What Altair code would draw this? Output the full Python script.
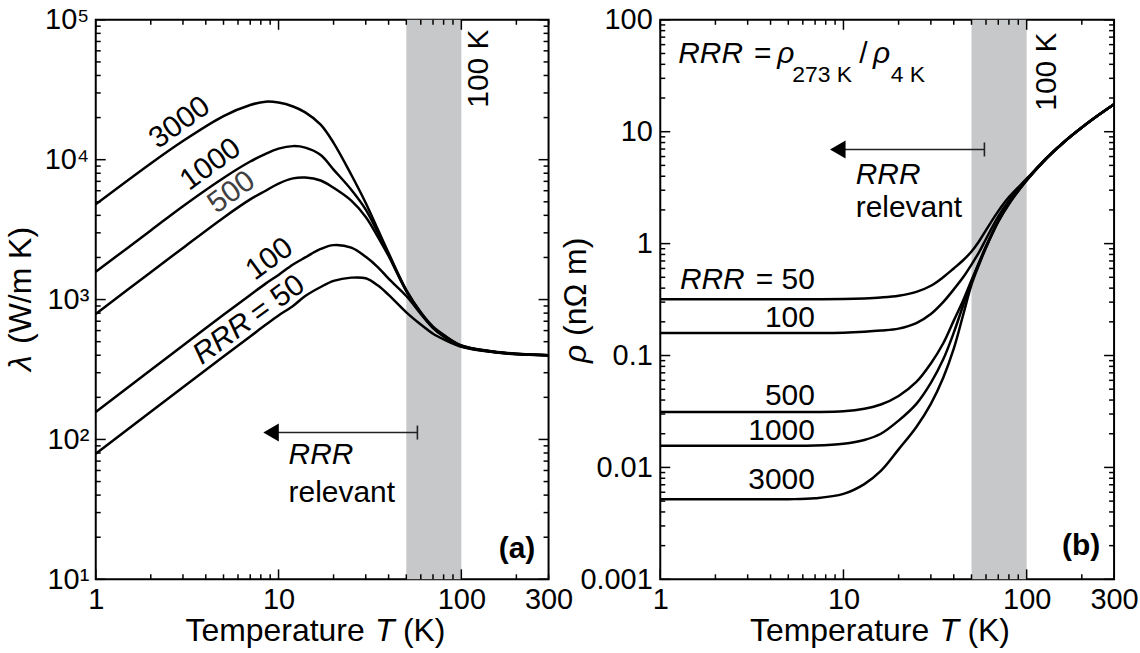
import altair as alt
import pandas as pd

FONT = "Liberation Sans"
GREY_BAND = "#c7c8ca"

# ---------------- panel (a): thermal conductivity lambda (W/m K) ----------------
T_A = [1, 2, 3, 5, 7, 8.5, 10, 12, 14, 17, 20, 25, 30, 35, 40, 50, 60, 70, 80, 100, 150, 200, 300]
LAM_3000 = [4800, 9400, 13600, 20500, 24600, 26000, 25600, 24000, 21800, 17800, 13200, 7800, 4900, 3150, 2150, 1170, 810, 640, 560, 470, 425, 410, 400]
LAM_1000 = [1580, 3120, 4650, 7400, 9700, 11000, 12000, 12500, 12200, 10800, 8500, 6100, 4400, 3000, 2100, 1160, 805, 635, 555, 468, 424, 409, 400]
LAM_500 = [790, 1570, 2340, 3850, 5200, 6000, 6750, 7350, 7450, 7100, 6300, 5100, 3900, 2800, 2050, 1150, 800, 630, 550, 466, 423, 408, 400]
LAM_100 = [157, 314, 470, 780, 1080, 1300, 1500, 1780, 2000, 2300, 2450, 2350, 2020, 1700, 1410, 1060, 790, 625, 545, 463, 422, 408, 400]
LAM_50 = [79, 158, 236, 392, 545, 660, 770, 900, 1060, 1230, 1360, 1435, 1420, 1260, 1080, 810, 663, 570, 520, 460, 420, 407, 400]

# ---------------- panel (b): resistivity rho (nOhm m) ----------------
T_B = [1, 3, 5, 7, 10, 13, 16, 20, 25, 30, 35, 40, 45, 50, 55, 60, 70, 80, 100, 130, 160, 200, 250, 300]
RHO_50 = [0.319, 0.319, 0.319, 0.319, 0.320, 0.324, 0.330, 0.342, 0.37, 0.42, 0.50, 0.60, 0.71, 0.85, 1.05, 1.32, 1.95, 2.6, 3.8, 5.95, 8.1, 10.9, 14.3, 17.6]
RHO_100 = [0.159, 0.159, 0.159, 0.159, 0.160, 0.163, 0.167, 0.174, 0.195, 0.235, 0.30, 0.39, 0.50, 0.65, 0.84, 1.10, 1.75, 2.42, 3.75, 5.92, 8.1, 10.9, 14.3, 17.6]
RHO_500 = [0.0313, 0.0313, 0.0313, 0.0313, 0.0318, 0.0335, 0.0365, 0.0435, 0.058, 0.085, 0.128, 0.205, 0.31, 0.47, 0.68, 0.95, 1.60, 2.30, 3.70, 5.90, 8.1, 10.9, 14.3, 17.6]
RHO_1000 = [0.0156, 0.0156, 0.0156, 0.0157, 0.0163, 0.0176, 0.0200, 0.0262, 0.037, 0.057, 0.092, 0.16, 0.28, 0.45, 0.67, 0.93, 1.58, 2.28, 3.68, 5.90, 8.1, 10.9, 14.3, 17.6]
RHO_3000 = [0.0052, 0.0052, 0.0052, 0.0053, 0.0058, 0.0071, 0.0093, 0.0145, 0.023, 0.037, 0.063, 0.115, 0.23, 0.43, 0.65, 0.92, 1.57, 2.25, 3.66, 5.90, 8.1, 10.9, 14.3, 17.6]

BAND_T = [50, 100]

X_TICKS = [1, 10, 100, 300]
X_MAJOR = [1, 10, 100]
X_MINOR = [2, 3, 4, 5, 6, 7, 8, 9, 20, 30, 40, 50, 60, 70, 80, 90, 200, 300]
LAM_MAJOR = [10, 100, 1000, 10000, 100000]
LAM_MINOR = [m * 10 ** k for k in range(1, 5) for m in range(2, 10)]
RHO_MAJOR = [0.001, 0.01, 0.1, 1, 10, 100]
RHO_MINOR = [m * 10.0 ** k for k in range(-3, 2) for m in range(2, 10)]

# axis-title pieces: (text, italic?)
X_TITLE = [("Temperature", False), ("T", True), ("(K)", False)]
YA_TITLE = [("λ", True), ("(W/m K)", False)]
YB_TITLE = [("ρ", True), ("(nΩ m)", False)]


def long_df(T, series):
    rows = []
    for name, vals in series.items():
        for t, v in zip(T, vals):
            rows.append({"T": t, "v": v, "RRR": name})
    return pd.DataFrame(rows)


class Panel:
    def __init__(self, xs, ys, xaxis, yaxis, W, H):
        self.xs, self.ys, self.xaxis, self.yaxis, self.W, self.H = xs, ys, xaxis, yaxis, W, H

    def X(self, f):
        return alt.X(f, scale=self.xs, axis=self.xaxis)

    def Y(self, f):
        return alt.Y(f, scale=self.ys, axis=self.yaxis)

    def ticks(self, ymajor, yminor):
        W, H = self.W, self.H
        layers = []
        for vals, L in [(X_MAJOR, 10), (X_MINOR, 5)]:
            base = alt.Chart(pd.DataFrame({"v": vals})).mark_rule(color="black", strokeWidth=1.5)
            layers.append(base.encode(x=self.X("v:Q"), y=alt.value(H), y2=alt.value(H - L)))
            layers.append(base.encode(x=self.X("v:Q"), y=alt.value(0), y2=alt.value(L)))
        for vals, L in [(ymajor, 10), (yminor, 5)]:
            base = alt.Chart(pd.DataFrame({"v": vals})).mark_rule(color="black", strokeWidth=1.5)
            layers.append(base.encode(y=self.Y("v:Q"), x=alt.value(0), x2=alt.value(L)))
            layers.append(base.encode(y=self.Y("v:Q"), x=alt.value(W), x2=alt.value(W - L)))
        return layers

    def text(self, rows, **kw):
        df = pd.DataFrame(rows, columns=["s", "T", "v"])
        style = dict(font=FONT, color="black", fontSize=30)
        style.update(kw)
        return alt.Chart(df).mark_text(**style).encode(x=self.X("T:Q"), y=self.Y("v:Q"), text="s:N")

    def arrow(self, t_head, t_end, yv, ylo, yhi):
        df = pd.DataFrame({"t1": [t_head], "t2": [t_end], "v": [yv], "lo": [ylo], "hi": [yhi]})
        line = alt.Chart(df).mark_rule(color="#222", strokeWidth=1.6).encode(
            x=self.X("t1:Q"), x2="t2:Q", y=self.Y("v:Q"))
        cap = alt.Chart(df).mark_rule(color="#222", strokeWidth=1.6).encode(
            x=self.X("t2:Q"), y=self.Y("lo:Q"), y2="hi:Q")
        head = alt.Chart(df).mark_point(shape="triangle-left", filled=True, size=324, color="black",
                                        opacity=1).encode(x=self.X("t1:Q"), y=self.Y("v:Q"))
        return [line, cap, head]

    def band(self):
        df = pd.DataFrame({"t1": [BAND_T[0]], "t2": [BAND_T[1]]})
        return alt.Chart(df).mark_rect(color=GREY_BAND).encode(
            x=self.X("t1:Q"), x2="t2:Q", y=alt.value(0), y2=alt.value(self.H))

    def lines(self, df):
        return alt.Chart(df).mark_line(interpolate="catmull-rom", color="black", strokeWidth=2.5,
                                       clip=True).encode(x=self.X("T:Q"), y=self.Y("v:Q"), detail="RRR:N")

    def title_piece(self, s, italic, px, py, angle=0):
        kw = dict(font=FONT, fontSize=32, color="black", align="left", baseline="alphabetic")
        if italic:
            kw["fontStyle"] = "italic"
        if angle:
            kw["angle"] = angle
        return alt.Chart(pd.DataFrame({"s": [s]})).mark_text(**kw).encode(
            x=alt.value(px), y=alt.value(py), text="s:N")

    def titles(self, ytitle, y_base_x, y_start):
        out = []
        # x title: "Temperature T (K)" under the plot
        xs_pos = [90, 280, 308]
        for (s, it), px in zip(X_TITLE, xs_pos):
            out.append(self.title_piece(s, it, px, self.H + 62))
        # y title rotated, reading upwards
        (s1, i1), (s2, i2) = ytitle
        out.append(self.title_piece(s1, i1, y_base_x, y_start, angle=270))
        out.append(self.title_piece(s2, i2, y_base_x, y_start - 27, angle=270))
        return out


# ---------------- panel (a) ----------------
xaxis = dict(values=X_TICKS, format="d", title=None, labelPadding=6)
pa = Panel(
    alt.Scale(type="log", domain=[1, 300], nice=False),
    alt.Scale(type="log", domain=[10, 100000], nice=False),
    alt.Axis(**xaxis),
    alt.Axis(values=LAM_MAJOR, title=None, labelPadding=7,
             labelExpr="'10' + ['⁰','¹','²','³','⁴','⁵'][round(log(datum.value)/LN10)]"),
    454, 561,
)
df_a = long_df(T_A, {"50": LAM_50, "100": LAM_100, "500": LAM_500, "1000": LAM_1000, "3000": LAM_3000})

layers_a = [pa.band(), pa.lines(df_a)]
layers_a += pa.ticks(LAM_MAJOR, LAM_MINOR)
layers_a.append(pa.text([("3000", 2.88, 18400), ("1000", 4.25, 9250), ("100", 8.93, 1945), ("= 50", 9.87, 1008)],
                        angle=324, align="center", baseline="middle"))
layers_a.append(pa.text([("500", 5.53, 5840)], angle=324, align="center", baseline="middle", color="#404040"))
layers_a.append(pa.text([("RRR", 4.94, 523)], angle=324, align="center", baseline="middle", fontStyle="italic"))
layers_a.append(pa.text([("100 K", 125, 44800)], angle=270, align="center", baseline="middle"))
layers_a.append(pa.text([("RRR", 11.35, 67.1)], align="left", baseline="alphabetic", fontStyle="italic"))
layers_a.append(pa.text([("relevant", 11.35, 36)], align="left", baseline="alphabetic"))
layers_a.append(pa.text([("(a)", 254, 16.6)], align="right", baseline="middle", fontWeight="bold"))
layers_a += pa.arrow(9.1, 57.5, 112, 99.8, 125.7)
layers_a += pa.titles(YA_TITLE, -65, 352)

panel_a = alt.layer(*layers_a).properties(width=pa.W, height=pa.H)

# ---------------- panel (b) ----------------
pb = Panel(
    alt.Scale(type="log", domain=[1, 300], nice=False),
    alt.Scale(type="log", domain=[0.001, 100], nice=False),
    alt.Axis(**xaxis),
    alt.Axis(values=RHO_MAJOR, title=None, labelPadding=8,
             labelExpr="datum.value >= 1 ? format(datum.value, 'd') : format(datum.value, '.3~f')"),
    455, 561,
)
df_b = long_df(T_B, {"50": RHO_50, "100": RHO_100, "500": RHO_500, "1000": RHO_1000, "3000": RHO_3000})

layers_b = [pb.band(), pb.lines(df_b)]
layers_b += pb.ticks(RHO_MAJOR, RHO_MINOR)
layers_b.append(pb.text([("= 50", 6.98, 0.393), ("100", 6.98, 0.18), ("500", 6.98, 0.0365),
                         ("1000", 6.98, 0.0177), ("3000", 6.98, 0.00638)], align="right", baseline="alphabetic"))
layers_b.append(pb.text([("RRR", 1.28, 0.393)], align="left", baseline="alphabetic", fontStyle="italic"))
# formula  RRR = rho_273K / rho_4K
layers_b.append(pb.text([("RRR", 1.253, 41.4), ("ρ", 4.35, 41.4), ("ρ", 14.5, 41.4)],
                        align="left", baseline="alphabetic", fontStyle="italic"))
layers_b.append(pb.text([("=", 3.25, 41.4), ("/", 12.2, 41.4)], align="left", baseline="alphabetic"))
layers_b.append(pb.text([("273 K", 5.25, 28.0), ("4 K", 18.1, 28.0)], align="left", baseline="alphabetic",
                        fontSize=23))
layers_b.append(pb.text([("100 K", 129, 34.4)], angle=270, align="center", baseline="middle"))
layers_b.append(pb.text([("RRR", 11.67, 3.38)], align="left", baseline="alphabetic", fontStyle="italic"))
layers_b.append(pb.text([("relevant", 11.67, 1.72)], align="left", baseline="alphabetic"))
layers_b.append(pb.text([("(b)", 252, 0.00197)], align="right", baseline="middle", fontWeight="bold"))
layers_b += pb.arrow(9.31, 58.8, 6.94, 6.01, 8.01)
layers_b += pb.titles(YB_TITLE, -74, 344)

panel_b = alt.layer(*layers_b).properties(width=pb.W, height=pb.H)

chart = alt.hconcat(panel_a, panel_b, spacing=-15).properties(
    padding={"left": 4, "top": 4, "right": 0, "bottom": 0}
).configure(font=FONT).configure_view(stroke="black", strokeWidth=2).configure_axis(
    labelFont=FONT, labelColor="black", labelFontSize=29,
    grid=False, ticks=False, domain=False, labelFlush=False, labelOverlap=False,
)

chart.save("out.html", embed_options={"renderer": "svg", "actions": False})
